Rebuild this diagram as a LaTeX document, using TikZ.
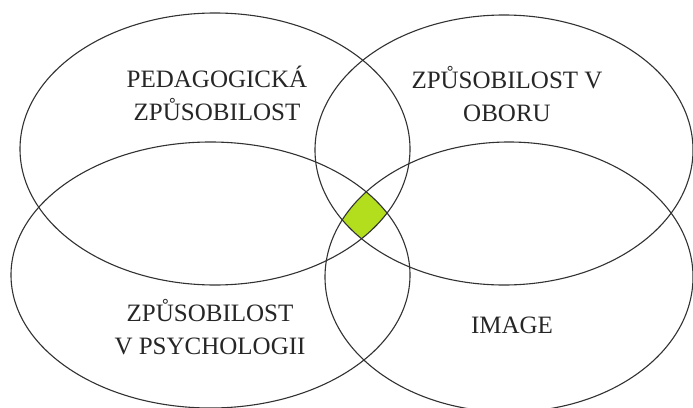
\documentclass[tikz,border=0pt]{standalone}
\usepackage{fontspec}
\setmainfont{Liberation Serif}
\definecolor{lime}{RGB}{178,222,30}
\definecolor{edge}{RGB}{50,50,50}
\begin{document}
\begin{tikzpicture}[x=1pt,y=-1pt,
  ring/.style={draw=edge,line width=1.1pt},
  label/.style={align=center,font=\fontsize{25}{33}\selectfont,text=black!85,inner sep=0pt}]
\useasboundingbox[fill=white] (0,0) rectangle (693,407);
% common intersection
\begin{scope}
  \clip (215,149) ellipse [x radius=195, y radius=136];
  \clip (504,150) ellipse [x radius=189, y radius=135];
  \clip (210.5,275) ellipse [x radius=199.5, y radius=133];
  \fill[lime] (509,277) ellipse [x radius=184, y radius=135];
\end{scope}
\draw[ring] (215,149) ellipse [x radius=195, y radius=136];
\draw[ring] (504,150) ellipse [x radius=189, y radius=135];
\draw[ring] (210.5,275) ellipse [x radius=199.5, y radius=133];
\draw[ring] (509,277) ellipse [x radius=184, y radius=135];
\node[label] (ped) at (217,93) {PEDAGOGICKÁ\\ZPŮSOBILOST};
\node[label] (obor) at (507,94.5) {ZPŮSOBILOST V\\OBORU};
\node[label] (psy) at (210,327.5) {ZPŮSOBILOST\\V PSYCHOLOGII};
\node[label] (img) at (512,325) {IMAGE};
\end{tikzpicture}
\end{document}
